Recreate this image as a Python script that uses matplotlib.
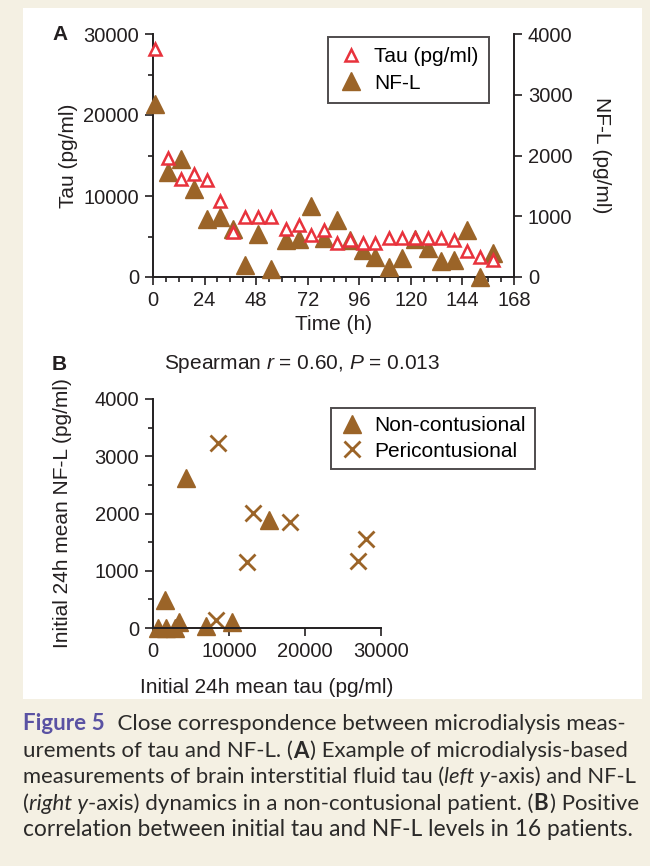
import matplotlib
matplotlib.use("Agg")
import matplotlib.pyplot as plt
from matplotlib.patches import Rectangle

plt.rcParams["font.family"] = ["Liberation Sans", "DejaVu Sans"]
plt.rcParams["mathtext.fontset"] = "custom"
plt.rcParams["mathtext.rm"] = "Liberation Sans"
plt.rcParams["mathtext.it"] = "Liberation Sans:italic"

# Panel A: time course (h), tau on left axis, NF-L on right axis
tau_t = [1, 7, 13, 19, 25, 31, 37, 43, 49, 55, 62, 68, 73.5, 79.5, 85.5, 91.5,
         97.5, 103.5, 110, 116, 122, 128, 134, 140, 146, 152, 158]
tau_v = [28200, 14700, 12150, 12760, 11980, 9420, 5540, 7400, 7350, 7400, 5950,
         6440, 5150, 5820, 4250, 4580, 4250, 4170, 4790, 4790, 4830, 4790, 4790,
         4580, 3260, 2520, 2100]
nfl_t = tau_t
nfl_v = [2850, 1735, 1950, 1450, 950, 990, 785, 200, 700, 125, 610, 620, 1170,
         637, 940, 610, 445, 325, 170, 318, 620, 472, 270, 280, 775, 0, 390]

# Panel B: initial 24h means
non_x = [660, 1670, 2850, 3420, 1580, 4300, 6930, 10440, 15220]
non_y = [0, 0, 0, 100, 494, 2625, 29, 100, 1887]
peri_x = [8550, 13160, 17990, 12410, 26970, 27990, 8250]
peri_y = [3223, 2015, 1858, 1161, 1179, 1550, 134]

BROWN = "#9b6428"
RED = "#e8323c"
CREAM = "#f4f0e3"
TXT = "#231f20"

W, H = 650, 866
fig = plt.figure(figsize=(6.5, 8.66), dpi=100, facecolor=CREAM)
fig.patches.append(Rectangle((23 / W, 1 - 699 / H), 619 / W, 691 / H,
                             transform=fig.transFigure, facecolor="white",
                             edgecolor="none", zorder=-5))


def px(x0, y0, x1, y1):
    return [x0 / W, 1 - y1 / H, (x1 - x0) / W, (y1 - y0) / H]


def style(ax, sides):
    for s in ["top", "right", "left", "bottom"]:
        ax.spines[s].set_visible(s in sides)
        ax.spines[s].set_linewidth(1.4)
        ax.spines[s].set_color(TXT)
    ax.set_facecolor("none")
    ax.tick_params(which="major", length=6, width=1.2, labelsize=14.5, pad=4, colors=TXT)
    ax.tick_params(which="minor", length=3.5, width=1.2, colors=TXT)


# ---- Panel A
axA = fig.add_axes(px(153, 34, 514, 277))
style(axA, ["left", "bottom"])
axA.set_xlim(0, 168)
axA.set_ylim(0, 30000)
axA.set_xticks(range(0, 169, 24))
axA.set_xticks(range(0, 169, 6), minor=True)
axA.set_yticks([0, 10000, 20000, 30000])
axA.set_yticks([5000, 15000, 25000], minor=True)
axA.set_ylabel("Tau (pg/ml)", fontsize=15, labelpad=4, color=TXT)
axA.set_xlabel("Time (h)", fontsize=15, labelpad=4, color=TXT)

axR = axA.twinx()
style(axR, ["right"])
axR.set_ylim(0, 4000)
axR.set_yticks([0, 1000, 2000, 3000, 4000])
axR.set_ylabel("NF-L (pg/ml)", fontsize=15, rotation=-90, labelpad=28, color=TXT)

hN, = axR.plot(nfl_t, nfl_v, "^", ms=13, color=BROWN, mec=BROWN, clip_on=False,
               linestyle="none", zorder=2, label="NF-L")
hT, = axR.plot(tau_t, [v * 4000 / 30000 for v in tau_v], "^", ms=8, mfc="white",
               mec=RED, mew=1.8, clip_on=False, linestyle="none", zorder=3,
               label="Tau (pg/ml)")
legA = axR.legend([hT, hN], ["Tau (pg/ml)", "NF-L"], loc="upper left",
                  bbox_to_anchor=((328 - 153) / 361, 1 - 3 / 243), fontsize=15,
                  frameon=True, fancybox=False, edgecolor=TXT, borderpad=0.5,
                  handletextpad=0.5, labelspacing=0.35, handlelength=1.2,
                  borderaxespad=0)
legA.get_frame().set_linewidth(1.4)
fig.text(52 / W, 1 - 35 / H, "A", fontsize=15, fontweight="bold", color=TXT,
         va="center", ha="left")

# ---- Panel B
axB = fig.add_axes(px(153, 399, 381, 628))
style(axB, ["left", "bottom"])
axB.set_xlim(0, 30000)
axB.set_ylim(0, 4000)
axB.set_xticks([0, 10000, 20000, 30000])
axB.set_yticks([0, 1000, 2000, 3000, 4000])
axB.set_yticks([500, 1500, 2500, 3500], minor=True)
axB.plot(non_x, non_y, "^", ms=13, color=BROWN, clip_on=False, linestyle="none",
         label="Non-contusional")
axB.plot(peri_x, peri_y, "x", ms=11, mew=2, color=BROWN, clip_on=False,
         linestyle="none", label="Pericontusional")
axB.set_xlabel("Initial 24h mean tau (pg/ml)", fontsize=15, labelpad=12, color=TXT)
axB.set_ylabel("Initial 24h mean NF-L (pg/ml)", fontsize=15, labelpad=16, color=TXT)
legB = axB.legend(loc="upper left", bbox_to_anchor=((331 - 153) / 228, 1 - 9 / 229),
                  fontsize=15, frameon=True, fancybox=False, edgecolor=TXT,
                  borderpad=0.4, handletextpad=0.5, labelspacing=0.3,
                  handlelength=1.2, borderaxespad=0)
legB.get_frame().set_linewidth(1.4)
fig.text(52 / W, 1 - 364 / H, "B", fontsize=15, fontweight="bold", color=TXT,
         va="center", ha="left")
fig.text(302 / W, 1 - 364 / H, r"Spearman $\it{r}$ = 0.60, $\it{P}$ = 0.013",
         fontsize=15, color=TXT, ha="center", va="center")

# ---- Caption (mixed styles laid out piece by piece)
caption = [
    [("Figure 5", "bold", "normal", "#5a52a3"),
     ("  Close correspondence between microdialysis meas-", "normal", "normal", None)],
    [("urements of tau and NF-L. (", "normal", "normal", None), ("A", "bold", "normal", None),
     (") Example of microdialysis-based", "normal", "normal", None)],
    [("measurements of brain interstitial fluid tau (", "normal", "normal", None),
     ("left y", "normal", "italic", None), ("-axis) and NF-L", "normal", "normal", None)],
    [("(", "normal", "normal", None), ("right y", "normal", "italic", None),
     ("-axis) dynamics in a non-contusional patient. (", "normal", "normal", None),
     ("B", "bold", "normal", None), (") Positive", "normal", "normal", None)],
    [("correlation between initial tau and NF-L levels in 16 patients.", "normal", "normal", None)],
]
line_y = [724, 751, 777, 804, 830]
line_end = [625, 627, 637, 637, 630]
renderer = fig.canvas.get_renderer()


def draw_line(parts, yy, size):
    x = 23
    out = []
    for s, w, st, col in parts:
        t = fig.text(x / W, 1 - yy / H, s, fontsize=size, fontweight=w, fontstyle=st,
                     family=["Lato", "DejaVu Sans"], color=col or "#2b2a29",
                     ha="left", va="center")
        x += t.get_window_extent(renderer=renderer).width + (1.5 if w == "bold" else 0)
        out.append(t)
    return out, x


for parts, yy, end in zip(caption, line_y, line_end):
    base = 16.3
    texts, x_end = draw_line(parts, yy, base)
    for t in texts:
        t.remove()
    draw_line(parts, yy, base * (end - 23) / (x_end - 23))

fig.savefig("out.png", dpi=100, facecolor=CREAM)
